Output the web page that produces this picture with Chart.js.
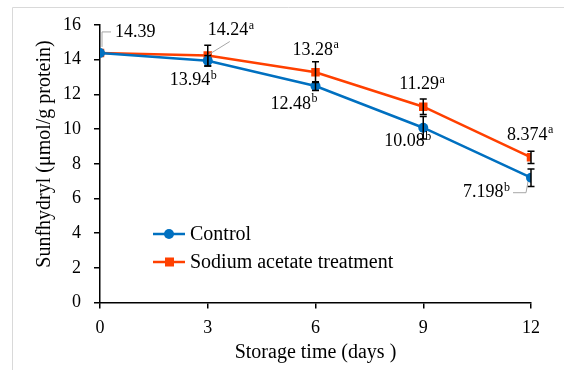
<!DOCTYPE html>
<html lang="en">
<head>
<meta charset="UTF-8">
<title>Sunfhydryl content</title>
<script src="https://cdn.jsdelivr.net/npm/chart.js"></script>
<style>
  html, body { margin: 0; padding: 0; background: #fff; }
</style>
</head>
<body>
<canvas id="chart" width="564" height="370"></canvas>
<script>
// data
const days = [0, 3, 6, 9, 12];
const control = [14.39, 13.94, 12.48, 10.08, 7.198];
const treatment = [14.39, 14.24, 13.28, 11.29, 8.374];
const controlErr = [0, 0.3, 0.25, 0.65, 0.5];
const treatmentErr = [0, 0.6, 0.6, 0.45, 0.35];
const controlText = ['', '13.94', '12.48', '10.08', '7.198'];
const treatmentText = ['14.39', '14.24', '13.28', '11.29', '8.374'];
const controlSup = ['', 'b', 'b', 'b', 'b'];
const treatmentSup = ['', 'a', 'a', 'a', 'a'];
const seriesNames = ['Control', 'Sodium acetate treatment'];

const FONT = "'Times New Roman', 'Liberation Serif', serif";
const BLUE = '#0070C0';
const RED = '#FF4000';

// label offsets from each point (left edge of text, middle)
const treatmentOff = [[15, -21], [0, -25], [-23, -22], [-24, -22], [-24, -22]];
const controlOff = [null, [-38, 20], [-45, 18], [-39, 14], [-68, 15]];

function drawLabel(ctx, x, y, txt, sup) {
    ctx.font = '18px ' + FONT;
    ctx.textAlign = 'left';
    ctx.textBaseline = 'middle';
    ctx.fillStyle = '#000';
    ctx.fillText(txt, x, y);
    if (sup) {
        const w = ctx.measureText(txt).width;
        ctx.font = '12px ' + FONT;
        ctx.fillText(sup, x + w + 0.5, y - 5);
    }
}

const extras = {
    id: 'extras',
    beforeDraw(chart) {
        const ctx = chart.ctx;
        ctx.save();
        ctx.strokeStyle = '#D9D9D9';
        ctx.lineWidth = 1;
        ctx.beginPath();
        ctx.moveTo(12.5, 370);
        ctx.lineTo(12.5, 7.5);
        ctx.lineTo(564, 7.5);
        ctx.stroke();
        ctx.restore();
    },
    afterDatasetsDraw(chart) {
        const ctx = chart.ctx;
        const xs = chart.scales.x, ys = chart.scales.y;
        ctx.save();

        // error bars
        ctx.strokeStyle = '#000';
        ctx.lineWidth = 1.5;
        [[control, controlErr], [treatment, treatmentErr]].forEach(([vals, errs]) => {
            vals.forEach((v, i) => {
                if (!errs[i]) return;
                const x = xs.getPixelForValue(days[i]);
                const y1 = ys.getPixelForValue(v - errs[i]);
                const y2 = ys.getPixelForValue(v + errs[i]);
                ctx.beginPath();
                ctx.moveTo(x, y1); ctx.lineTo(x, y2);
                ctx.moveTo(x - 3.5, y1); ctx.lineTo(x + 3.5, y1);
                ctx.moveTo(x - 3.5, y2); ctx.lineTo(x + 3.5, y2);
                ctx.stroke();
            });
        });

        // leader lines
        ctx.strokeStyle = '#A6A6A6';
        ctx.lineWidth = 1;
        let px = xs.getPixelForValue(days[0]), py = ys.getPixelForValue(treatment[0]);
        ctx.beginPath();
        ctx.moveTo(px + 11, py - 21); ctx.lineTo(px + 2, py - 21); ctx.lineTo(px + 2, py - 6);
        px = xs.getPixelForValue(days[1]); py = ys.getPixelForValue(treatment[1]);
        ctx.moveTo(px + 22, py - 14); ctx.lineTo(px + 1, py - 1);
        px = xs.getPixelForValue(days[4]); py = ys.getPixelForValue(control[4]);
        ctx.moveTo(px - 18, py + 15); ctx.lineTo(px - 5, py + 15); ctx.lineTo(px - 3, py + 4);
        ctx.stroke();

        // data labels
        treatment.forEach((v, i) => {
            const o = treatmentOff[i];
            drawLabel(ctx, xs.getPixelForValue(days[i]) + o[0], ys.getPixelForValue(v) + o[1], treatmentText[i], treatmentSup[i]);
        });
        control.forEach((v, i) => {
            const o = controlOff[i];
            if (!o) return;
            drawLabel(ctx, xs.getPixelForValue(days[i]) + o[0], ys.getPixelForValue(v) + o[1], controlText[i], controlSup[i]);
        });

        // legend inside the plot
        const items = [[BLUE, 'circle', 234], [RED, 'rect', 262]];
        items.forEach(([col, shape, y], k) => {
            ctx.strokeStyle = col;
            ctx.fillStyle = col;
            ctx.lineWidth = 2.5;
            ctx.beginPath();
            ctx.moveTo(153, y); ctx.lineTo(185, y);
            ctx.stroke();
            if (shape === 'circle') {
                ctx.beginPath(); ctx.arc(169, y, 5, 0, Math.PI * 2); ctx.fill();
            } else {
                ctx.fillRect(165, y - 4.5, 9, 9);
            }
            ctx.font = '20px ' + FONT;
            ctx.textAlign = 'left';
            ctx.textBaseline = 'middle';
            ctx.fillStyle = '#000';
            ctx.fillText(seriesNames[k], 190, y + 1);
        });

        // y axis title
        ctx.translate(45, 154);
        ctx.rotate(-Math.PI / 2);
        ctx.font = '20px ' + FONT;
        ctx.textAlign = 'center';
        ctx.textBaseline = 'middle';
        ctx.fillStyle = '#000';
        ctx.fillText('Sunfhydryl (\u03bcmol/g protein)', 0, 0);
        ctx.restore();
    }
};

new Chart(document.getElementById('chart').getContext('2d'), {
    type: 'line',
    data: {
        datasets: [
            {
                label: seriesNames[0],
                data: days.map((d, i) => ({ x: d, y: control[i] })),
                borderColor: BLUE,
                backgroundColor: BLUE,
                borderWidth: 2.5,
                pointStyle: 'circle',
                pointRadius: 5,
                pointBorderWidth: 0
            },
            {
                label: seriesNames[1],
                data: days.map((d, i) => ({ x: d, y: treatment[i] })),
                borderColor: RED,
                backgroundColor: RED,
                borderWidth: 2.5,
                pointStyle: 'rect',
                pointRadius: 6,
                pointBorderWidth: 0
            }
        ]
    },
    options: {
        responsive: false,
        animation: false,
        layout: { padding: { left: 12, right: 33, top: 25, bottom: 0 } },
        plugins: { legend: { display: false }, tooltip: { enabled: false } },
        scales: {
            x: {
                type: 'linear',
                min: 0, max: 12,
                afterFit(s) { s.height = 67.4; },
                ticks: { stepSize: 3, color: '#000', padding: 9, font: { family: FONT, size: 18 } },
                grid: { drawOnChartArea: false, tickLength: 6, color: '#000', lineWidth: 1.5 },
                border: { color: '#000', width: 1.5 },
                title: {
                    display: true,
                    text: 'Storage time (days )',
                    color: '#000',
                    font: { family: FONT, size: 20 },
                    padding: { top: 0, bottom: 5 }
                }
            },
            y: {
                min: 0, max: 16,
                afterFit(s) { s.width = 88; },
                ticks: { stepSize: 2, color: '#000', padding: 13, font: { family: FONT, size: 18 } },
                grid: { drawOnChartArea: false, tickLength: 6, color: '#000', lineWidth: 1.5 },
                border: { color: '#000', width: 1.5 }
            }
        }
    },
    plugins: [extras]
});
</script>
</body>
</html>
